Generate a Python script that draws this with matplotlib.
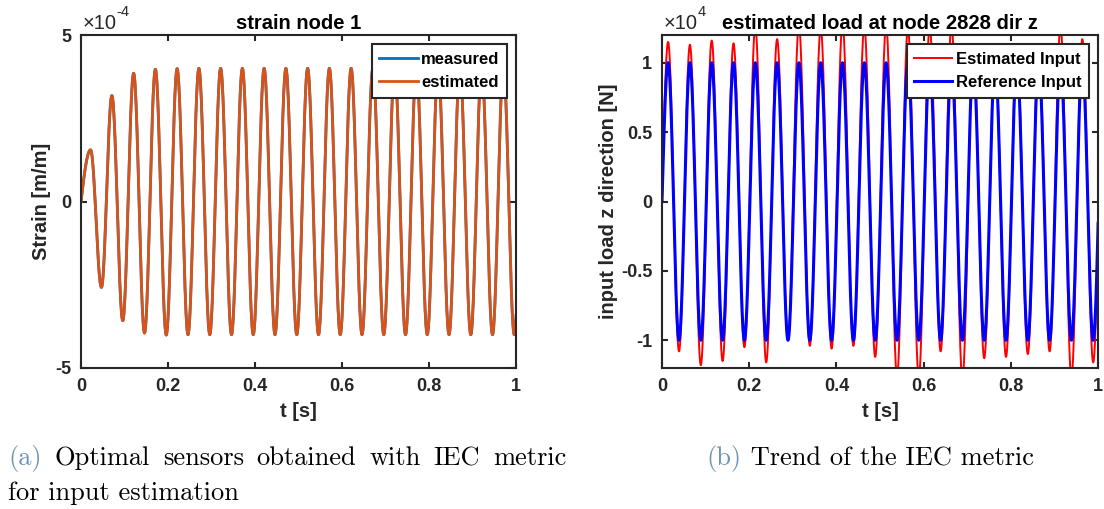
import numpy as np
import matplotlib
matplotlib.use("Agg")
import matplotlib.pyplot as plt
from matplotlib.ticker import FixedLocator, FixedFormatter

plt.rcParams['font.family'] = ['Liberation Sans', 'DejaVu Sans']
plt.rcParams['axes.unicode_minus'] = False

# ---------------- data ----------------
# strain at node 1: times [s] of successive peaks/troughs and their values [x1e-4 m/m]
strain_t = [0.000, 0.022, 0.047, 0.071, 0.096, 0.121, 0.146, 0.171, 0.196, 0.221,
            0.246, 0.271, 0.296, 0.321, 0.346, 0.371, 0.396, 0.421, 0.446, 0.471,
            0.496, 0.521, 0.546, 0.571, 0.596, 0.621, 0.646, 0.671, 0.696, 0.721,
            0.746, 0.771, 0.796, 0.821, 0.846, 0.871, 0.896, 0.921, 0.946, 0.971,
            0.996, 1.021]
strain_measured = [0.00, 1.55, -2.58, 3.18, -3.58, 3.85, -3.95, 3.97, -4.01, 3.99,
                   -4.00, 4.00, -4.00, 4.00, -4.00, 4.00, -4.00, 4.00, -4.00, 4.00,
                   -4.00, 4.00, -4.00, 4.00, -4.00, 4.00, -4.00, 4.00, -4.00, 4.00,
                   -4.00, 4.00, -4.00, 4.00, -4.00, 4.00, -4.00, 4.00, -4.00, 4.00,
                   -4.00, 4.00]
strain_estimated = list(strain_measured)
strain_scale = 1e-4

# load at node 2828, z direction: times [s] of peaks/troughs and values [x1e4 N]
load_t = [0.000, 0.014, 0.039, 0.064, 0.089, 0.114, 0.139, 0.164, 0.189, 0.214,
          0.239, 0.264, 0.289, 0.314, 0.339, 0.364, 0.389, 0.414, 0.439, 0.464,
          0.489, 0.514, 0.539, 0.564, 0.589, 0.614, 0.639, 0.664, 0.689, 0.714,
          0.739, 0.764, 0.789, 0.814, 0.839, 0.864, 0.889, 0.914, 0.939, 0.964,
          0.989, 1.014]
load_reference = [0.00, 1.00, -1.00, 1.00, -1.00, 1.00, -1.00, 1.00, -1.00, 1.00,
                  -1.00, 1.00, -1.00, 1.00, -1.00, 1.00, -1.00, 1.00, -1.00, 1.00,
                  -1.00, 1.00, -1.00, 1.00, -1.00, 1.00, -1.00, 1.00, -1.00, 1.00,
                  -1.00, 1.00, -1.00, 1.00, -1.00, 1.00, -1.00, 1.00, -1.00, 1.00,
                  -1.00, 1.00]
load_estimated = [0.00, 1.15, -1.08, 1.13, -1.18, 1.16, -1.15, 1.14, -1.05, 1.26,
                  -1.16, 1.17, -1.00, 1.27, -1.04, 1.25, -1.06, 1.28, -1.04, 1.26,
                  -1.12, 1.27, -1.26, 1.25, -1.27, 1.26, -1.08, 1.27, -1.28, 1.10,
                  -1.13, 1.08, -1.12, 1.12, -1.10, 1.10, -1.08, 1.26, -1.27, 1.17,
                  -1.16, 1.10]
load_scale = 1e4

x_ticks = [0, 0.2, 0.4, 0.6, 0.8, 1]
x_ticklabels = ['0', '0.2', '0.4', '0.6', '0.8', '1']
strain_yticks = [-5, 0, 5]
strain_yticklabels = ['-5', '0', '5']
load_yticks = [-1, -0.5, 0, 0.5, 1]
load_yticklabels = ['-1', '-0.5', '0', '0.5', '1']


def trace(t_ext, v_ext, n=40):
    """Smooth oscillation through the listed extrema (half-cosine between them)."""
    ts, vs = [], []
    for i in range(len(t_ext) - 1):
        t0, t1 = t_ext[i], t_ext[i + 1]
        v0, v1 = v_ext[i], v_ext[i + 1]
        s = np.linspace(0, 1, n, endpoint=False)
        if v0 == 0:
            v = v1 * np.sin(0.5 * np.pi * s)
        else:
            v = v0 + (v1 - v0) * (1 - np.cos(np.pi * s)) / 2
        ts.append(t0 + (t1 - t0) * s)
        vs.append(v)
    ts.append([t_ext[-1]])
    vs.append([v_ext[-1]])
    return np.concatenate(ts), np.concatenate(vs)


# ---------------- figure ----------------
W, H = 1104, 509
fig = plt.figure(figsize=(W / 100, H / 100), dpi=100)

frame_col = '#262626'
tick_fs = 13
label_fs = 14.5


def px_axes(l, t, r, b):
    return fig.add_axes([l / W, 1 - b / H, (r - l) / W, (b - t) / H])


def style(ax):
    for sp in ax.spines.values():
        sp.set_linewidth(1.5)
        sp.set_color(frame_col)
    ax.tick_params(direction='in', length=4.5, width=1.5, color=frame_col,
                   top=True, right=True, labelsize=tick_fs, labelcolor=frame_col, pad=7)
    ax.set_xlim(0, 1)
    ax.xaxis.set_major_locator(FixedLocator(x_ticks))
    ax.xaxis.set_major_formatter(FixedFormatter(x_ticklabels))
    for lab in ax.get_xticklabels() + ax.get_yticklabels():
        lab.set_fontweight('bold')


def exponent(ax, base, power):
    t1 = ax.text(0.004, 1.006, base, transform=ax.transAxes, ha='left', va='bottom',
                 fontsize=14.5, color=frame_col)
    ax.annotate(power, xy=(1.0, 0.72), xycoords=t1, ha='left', va='bottom',
                fontsize=10.5, color=frame_col)


def legend(ax):
    lg = ax.legend(loc='upper right', prop={'weight': 'bold', 'size': 12},
                   frameon=True, fancybox=False, framealpha=1, edgecolor=frame_col,
                   handlelength=2.3, handletextpad=0.2, borderpad=0.45, labelspacing=0.5,
                   borderaxespad=0.55)
    lg.get_frame().set_linewidth(1.5)
    return lg


# left panel: strain node 1
ax1 = px_axes(81, 35, 516, 368)
tm, ym = trace(strain_t, strain_measured)
te, ye = trace(strain_t, strain_estimated)
ax1.plot(tm, ym * strain_scale, color='#0072BD', lw=2.0, label='measured')
ax1.plot(te, ye * strain_scale, color='#D95319', lw=2.0, label='estimated')
ax1.set_ylim(-5 * strain_scale, 5 * strain_scale)
ax1.yaxis.set_major_locator(FixedLocator([v * strain_scale for v in strain_yticks]))
ax1.yaxis.set_major_formatter(FixedFormatter(strain_yticklabels))
style(ax1)
ax1.set_title('strain node 1', fontsize=label_fs, fontweight='bold', pad=4)
ax1.set_xlabel('t [s]', fontsize=label_fs, fontweight='bold', color=frame_col, labelpad=5)
ax1.set_ylabel('Strain [m/m]', fontsize=label_fs, fontweight='bold', color=frame_col, labelpad=3)
exponent(ax1, '×10', '-4')
legend(ax1)

# right panel: estimated load at node 2828
ax2 = px_axes(662, 35, 1098, 368)
tr, yr = trace(load_t, load_reference)
tq, yq = trace(load_t, load_estimated)
ax2.plot(tq, yq * load_scale, color='#FF0000', lw=1.4, label='Estimated Input')
ax2.plot(tr, yr * load_scale, color='#0000FF', lw=2.2, label='Reference Input')
ax2.set_ylim(-1.2 * load_scale, 1.2 * load_scale)
ax2.yaxis.set_major_locator(FixedLocator([v * load_scale for v in load_yticks]))
ax2.yaxis.set_major_formatter(FixedFormatter(load_yticklabels))
style(ax2)
ax2.set_title('estimated load at node 2828 dir z', fontsize=label_fs, fontweight='bold', pad=4)
ax2.set_xlabel('t [s]', fontsize=label_fs, fontweight='bold', color=frame_col, labelpad=5)
ax2.set_ylabel('input load z direction [N]', fontsize=label_fs, fontweight='bold',
               color=frame_col, labelpad=2)
exponent(ax2, '×10', '4')
legend(ax2)

# ---------------- sub-captions ----------------
cap_font = dict(family='cmr10', fontsize=19)
tag_col = '#6f93b4'
renderer = fig.canvas.get_renderer()

# first caption, justified over its full line width
words = ['(a)', 'Optimal', 'sensors', 'obtained', 'with', 'IEC', 'metric']
line_left, line_right, base1 = 8, 566, 465
texts = []
for w in words:
    col = tag_col if w == '(a)' else 'black'
    texts.append(fig.text(0, 1 - base1 / H, w, color=col, ha='left', va='baseline', **cap_font))
widths = [t.get_window_extent(renderer).width for t in texts]
gap = (line_right - line_left - sum(widths)) / (len(words) - 1)
x = line_left
for t, wd in zip(texts, widths):
    t.set_x(x / W)
    x += wd + gap
fig.text(line_left / W, 1 - 500 / H, 'for input estimation', color='black',
         ha='left', va='baseline', **cap_font)

tb = fig.text(0, 1 - base1 / H, '(b)', color=tag_col, ha='left', va='baseline', **cap_font)
tt = fig.text(0, 1 - base1 / H, ' Trend of the IEC metric', color='black', ha='left',
              va='baseline', **cap_font)
wb = tb.get_window_extent(renderer).width
wt = tt.get_window_extent(renderer).width
start = 870 - (wb + wt) / 2
tb.set_x(start / W)
tt.set_x((start + wb) / W)

fig.savefig('out.png', dpi=100)
